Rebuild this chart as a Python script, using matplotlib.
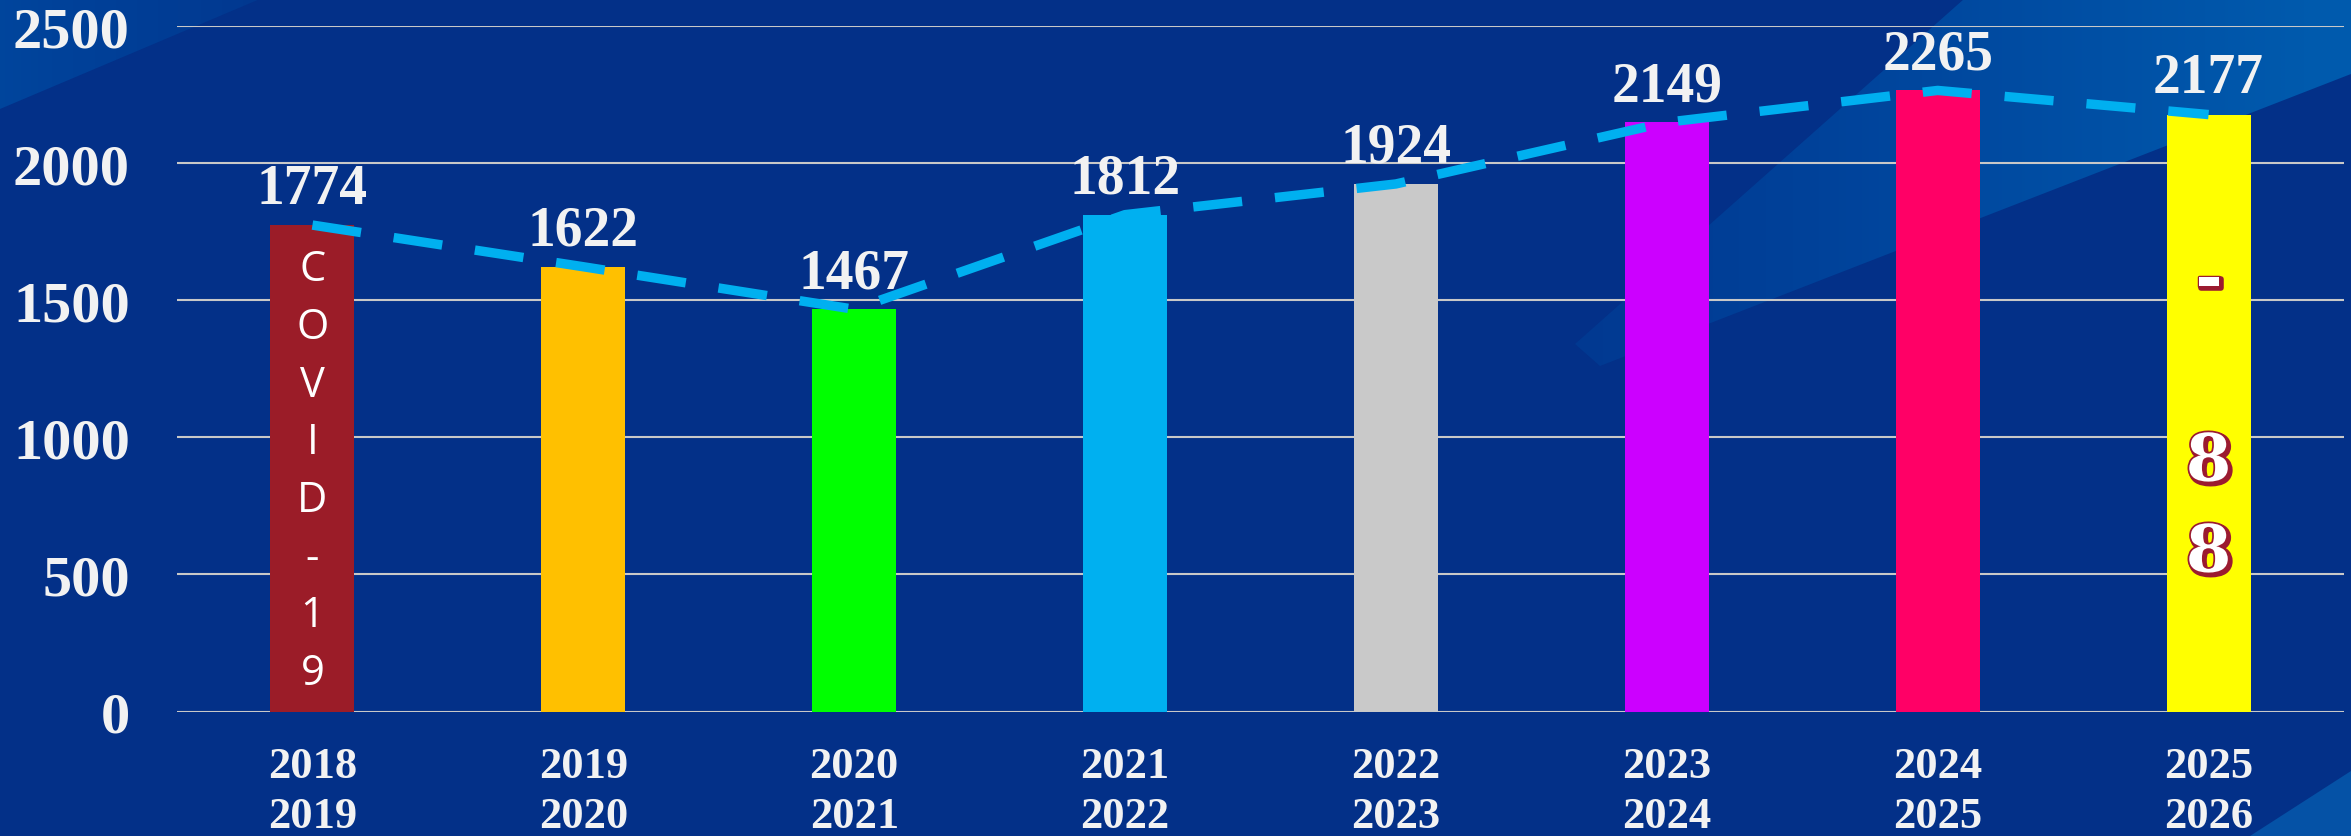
import numpy as np
import matplotlib.pyplot as plt
import matplotlib.patheffects as pe
from matplotlib.patches import Polygon
from matplotlib.colors import LinearSegmentedColormap

# ข้อมูล
years = ['2018\n2019', '2019\n2020', '2020\n2021', '2021\n2022',
         '2022\n2023', '2023\n2024', '2024\n2025', '2025\n2026']
counts = [1774, 1622, 1467, 1812, 1924, 2149, 2265, 2177]
bar_colors = ['#9B1C28', '#FFC000', '#00FF00', '#00B0F0',
              '#C9C9C9', '#CC00FF', '#FF0066', '#FFFF00']
covid_text = list('COVID-19')
last_text = ['-', '', '8', '8']

bg_blue = '#033088'
fig = plt.figure(figsize=(23.51, 8.37), dpi=100, facecolor=bg_blue)

# พื้นหลังแบบแถบเฉียง
bg = fig.add_axes([0, 0, 1, 1], zorder=-1)
bg.axis('off')
grad = LinearSegmentedColormap.from_list('g', [bg_blue, '#00429A', '#005AAD'])
ramp = np.linspace(0, 1, 256).reshape(1, -1)

tl = Polygon([(0, 0), (260, 0), (0, 110)], lw=0, facecolor='none')
bg.add_patch(tl)
im = bg.imshow(ramp[:, ::-1], cmap=grad, extent=(-150, 300, 120, 0),
               aspect='auto', vmin=-0.3, vmax=1.4)
im.set_clip_path(tl)

tr = Polygon([(1964, 0), (2351, 0), (2351, 75), (1600, 367), (1575, 345)],
             lw=0, facecolor='none')
bg.add_patch(tr)
im2 = bg.imshow(ramp, cmap=grad, extent=(1500, 2351, 400, 0),
                aspect='auto', vmin=-0.2, vmax=0.95)
im2.set_clip_path(tr)

bg.add_patch(Polygon([(2250, 837), (2351, 837), (2351, 772)],
                     color='#0552A6', lw=0))
bg.set_xlim(0, 2351)
bg.set_ylim(837, 0)

ax = fig.add_axes([177 / 2351, 1 - 712.5 / 837, 2167 / 2351, 685.5 / 837])
ax.set_facecolor('none')

x = range(len(years))
bars = ax.bar(x, counts, 0.31, color=bar_colors, zorder=2)

# เส้นประ
ax.plot(x, counts, color='#00B0F0', lw=6.8, dashes=(5.2, 3.5),
        solid_capstyle='butt', dash_capstyle='butt', zorder=3)

# ตัวเลขบนแท่ง
for i, v in enumerate(counts):
    ax.annotate(str(v), (i, v), xytext=(0, 16), textcoords='offset points',
                ha='center', va='baseline', color='#F2F2F2',
                fontsize=40, fontweight='bold', family='Liberation Serif',
                zorder=4)

# ข้อความแนวตั้ง COVID-19
n = len(covid_text)
for k, ch in enumerate(covid_text):
    ax.annotate(ch, (0, counts[0] / 2),
                xytext=(0, (n / 2 - k - 0.5) * 41.5 - 2), textcoords='offset points',
                ha='center', va='center', color='white', fontsize=30,
                family='Open Sans', zorder=4)

# ข้อความในแท่งสุดท้าย
m = len(last_text)
fx = [pe.Stroke(linewidth=4, foreground='#9B1B30', offset=(1.5, -1.5)),
      pe.Stroke(linewidth=2.5, foreground='#9B1B30'), pe.Normal()]
for k, ch in enumerate(last_text):
    if ch == '':
        continue
    ax.annotate(ch, (7, counts[7] / 2),
                xytext=(0, (m / 2 - k - 0.5) * 65.5 - 3), textcoords='offset points',
                ha='center', va='center', color='white', fontsize=47,
                fontweight='bold', family='DejaVu Serif', zorder=4,
                path_effects=fx)

ax.set_xlim(-0.5, 7.5)
ax.set_ylim(0, 2500)
ax.set_yticks([0, 500, 1000, 1500, 2000, 2500])
ax.set_xticks(list(x))
ax.set_xticklabels(years, linespacing=1.3)
ax.tick_params(axis='y', length=0, pad=34, labelsize=42, labelcolor='#F2F2F2')
ax.tick_params(axis='x', length=0, pad=25, labelsize=32, labelcolor='#F2F2F2')
for lab in ax.get_xticklabels() + ax.get_yticklabels():
    lab.set_fontfamily('Liberation Serif')
    lab.set_fontweight('bold')

ax.grid(axis='y', color='#C8C8C8', lw=1.5, zorder=1)
ax.set_axisbelow(True)
for s in ax.spines.values():
    s.set_visible(False)

fig.savefig('out.png', dpi=100, facecolor=bg_blue)
